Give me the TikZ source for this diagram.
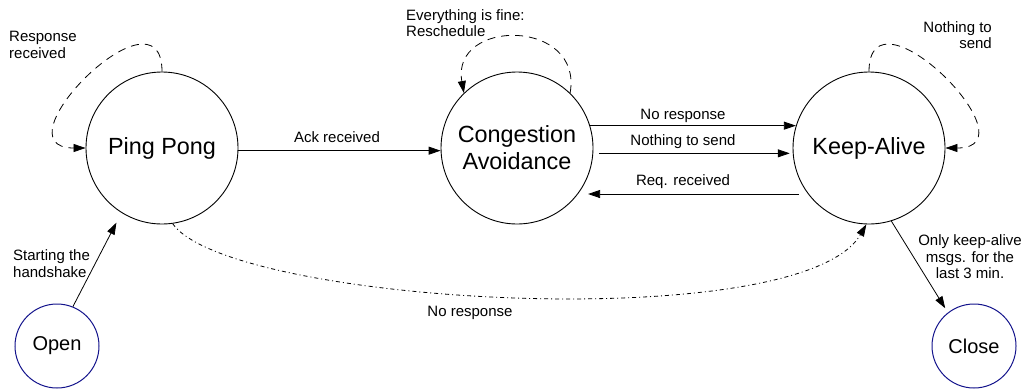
\documentclass[tikz,border=0pt]{standalone}
\usepackage{fontspec}
\setmainfont{Liberation Sans}
\usetikzlibrary{arrows.meta}
\definecolor{stblue}{RGB}{20,20,140}
\begin{document}
\begin{tikzpicture}[x=1pt,y=1pt,
  state/.style={circle,draw,line width=0.9pt,minimum size=152pt,inner sep=0pt,
    font=\fontsize{23.4}{27}\selectfont,align=center},
  endstate/.style={circle,draw=stblue,line width=1pt,minimum size=84pt,inner sep=0pt,
    font=\fontsize{20}{24}\selectfont},
  lbl/.style={font=\fontsize{15}{16.5}\selectfont,inner sep=0pt},
  edge/.style={line width=0.8pt,-{Triangle[length=12pt,width=8pt]}},
  loopedge/.style={edge,dash pattern=on 8pt off 6pt},
  dashdot/.style={edge,dash pattern=on 4pt off 3pt on 1pt off 3pt}]
\useasboundingbox (0,0) rectangle (1024,-389);

% states
\node[state] (pp) at (162,-148) {Ping Pong};
\node[state] (ca) at (517,-148) {Congestion\\Avoidance};
\node[state] (ka) at (869,-148) {Keep-Alive};
\node[endstate] (open) at (57,-346) {Open};
\node[endstate] (close) at (974,-346) {Close};

% self loops
\draw[loopedge] (pp.90) to[out=90,in=180,distance=92pt] (pp.180);
\draw[loopedge] (ca.46) to[out=80,in=100,distance=76pt] (ca.134);
\draw[loopedge] (ka.90) to[out=90,in=0,distance=92pt] (ka.0);

% transitions
\draw[edge] (pp.-2) -- (ca.182);
\draw[edge] (ca.17) -- (ka.163);
\draw[edge,shorten <=6pt,shorten >=3pt] (ca.-4) -- (ka.184);
\draw[edge,shorten <=9pt,shorten >=10pt] (ka.217) -- (ca.-37);
\draw[edge,shorten >=11pt] (open.68) -- (pp.238);
\draw[edge,shorten >=5pt] (ka.-73) -- (close.128);
\draw[dashdot] (pp.-82) .. controls (230,-305) and (801,-337) .. (ka.-92);

% labels
\node[lbl,anchor=west,align=left] (l1) at (9,-45) {Response\\received};
\node[lbl,anchor=west,align=left] (l2) at (406,-23) {Everything is fine:\\Reschedule};
\node[lbl,anchor=east,align=right] (l3) at (992,-35) {Nothing to\\send};
\node[lbl] (l4) at (337,-137) {Ack received};
\node[lbl] (l5) at (683,-116) {No response};
\node[lbl] (l6) at (683,-142) {Nothing to send};
\node[lbl] (l7) at (683,-182) {Req. received};
\node[lbl,anchor=west,align=left] (l8) at (13,-263.5) {Starting the\\handshake};
\node[lbl,align=center] (l9) at (970,-257) {Only keep-alive\\msgs. for the\\last 3 min.};
\node[lbl] (l10) at (470,-313) {No response};
\end{tikzpicture}
\end{document}
